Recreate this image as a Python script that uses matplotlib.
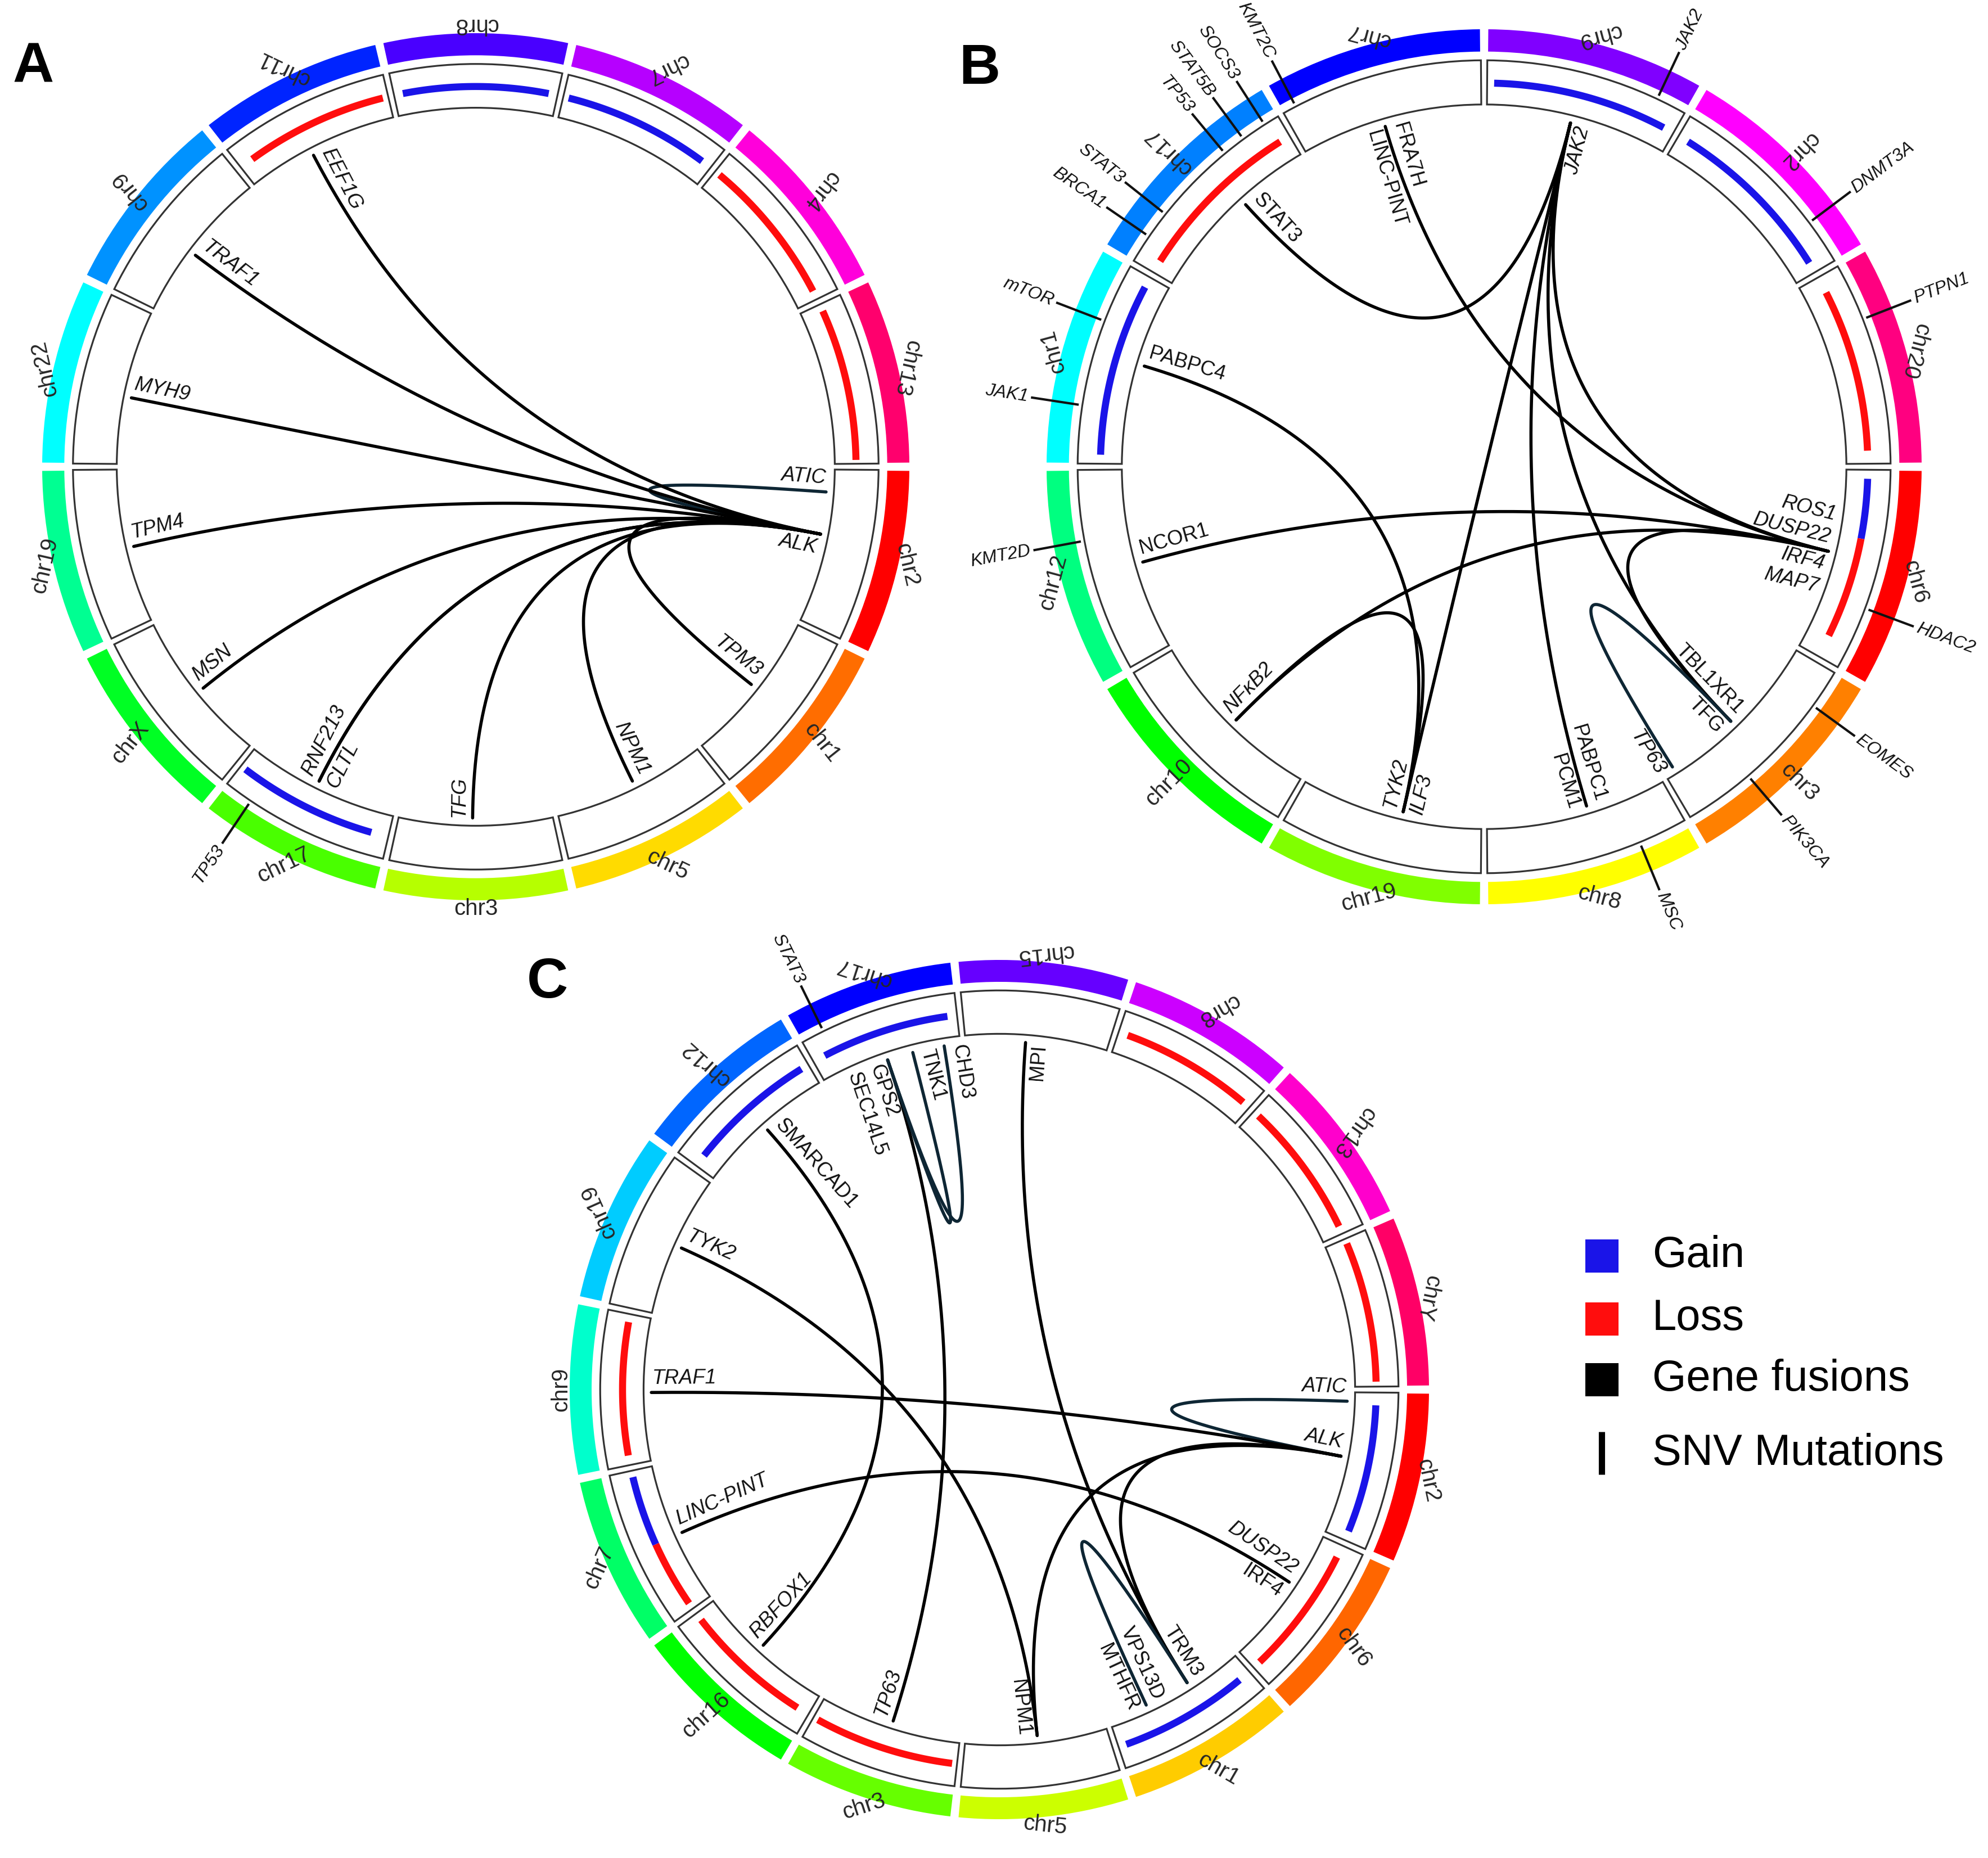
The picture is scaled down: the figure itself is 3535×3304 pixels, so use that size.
import numpy as np
import matplotlib
matplotlib.use("Agg")
import matplotlib.pyplot as plt
from matplotlib.patches import Wedge, Rectangle
import colorsys

plt.rcParams['font.family'] = ['Liberation Sans', 'DejaVu Sans']

# ======================= DATA =======================
# ---- Panel A ----
A_chroms = ['chr2', 'chr1', 'chr5', 'chr3', 'chr17', 'chrX', 'chr19', 'chr22',
            'chr9', 'chr11', 'chr8', 'chr7', 'chr4', 'chr13']
A_cnv_chrom = ['chr11', 'chr8', 'chr7', 'chr4', 'chr13', 'chr17']
A_cnv_start = [0.10, 0.07, 0.05, 0.05, 0.06, 0.12]
A_cnv_end = [0.95, 0.93, 0.92, 0.93, 0.96, 0.95]
A_cnv_type = ['loss', 'gain', 'gain', 'loss', 'loss', 'gain']
A_genes = ['ALK', 'ATIC', 'TPM3', 'NPM1', 'TFG', 'RNF213', 'CLTL', 'MSN',
           'TPM4', 'MYH9', 'TRAF1', 'EEF1G']
A_gene_chrom = ['chr2', 'chr2', 'chr1', 'chr5', 'chr3', 'chr17', 'chr17', 'chrX',
                'chr19', 'chr22', 'chr9', 'chr11']
A_gene_pos = [0.43, 0.16, 0.49, 0.47, 0.52, 0.53, 0.53, 0.48, 0.49, 0.44, 0.44, 0.43]
A_fusion_a = ['ALK'] * 11
A_fusion_b = ['ATIC', 'TPM3', 'NPM1', 'TFG', 'RNF213', 'CLTL', 'MSN', 'TPM4',
              'MYH9', 'TRAF1', 'EEF1G']
A_snv = ['TP53']
A_snv_chrom = ['chr17']
A_snv_pos = [0.82]

# ---- Panel B ----
B_chroms = ['chr6', 'chr3', 'chr8', 'chr19', 'chr10', 'chr12', 'chr1', 'chr17',
            'chr7', 'chr9', 'chr2', 'chr20']
B_cnv_chrom = ['chr9', 'chr2', 'chr20', 'chr6', 'chr6', 'chr17', 'chr1']
B_cnv_start = [0.05, 0.07, 0.10, 0.06, 0.36, 0.08, 0.06]
B_cnv_end = [0.93, 0.93, 0.92, 0.36, 0.87, 0.93, 0.93]
B_cnv_type = ['gain', 'gain', 'loss', 'gain', 'loss', 'loss', 'gain']
B_genes = ['JAK2', 'STAT3', 'FRA7H', 'LINC-PINT', 'PABPC4', 'NCOR1', 'NFκB2',
           'TYK2', 'ILF3', 'PCM1', 'PABPC1', 'TP63', 'TBL1XR1', 'TFG',
           'DUSP22', 'ROS1', 'IRF4', 'MAP7']
B_gene_chrom = ['chr9', 'chr17', 'chr7', 'chr7', 'chr1', 'chr12', 'chr10',
                'chr19', 'chr19', 'chr8', 'chr8', 'chr3', 'chr3', 'chr3',
                'chr6', 'chr6', 'chr6', 'chr6']
B_gene_pos = [0.47, 0.59, 0.46, 0.46, 0.55, 0.48, 0.48, 0.44, 0.44, 0.44, 0.44,
              0.93, 0.53, 0.53, 0.46, 0.46, 0.46, 0.46]
B_fusion_a = ['STAT3', 'FRA7H', 'JAK2', 'JAK2', 'JAK2', 'JAK2', 'PABPC4',
              'NCOR1', 'NFκB2', 'NFκB2', 'MAP7', 'TFG']
B_fusion_b = ['JAK2', 'DUSP22', 'ROS1', 'TBL1XR1', 'PCM1', 'ILF3', 'TYK2',
              'DUSP22', 'IRF4', 'TYK2', 'TBL1XR1', 'TP63']
B_snv = ['JAK2', 'DNMT3A', 'PTPN1', 'HDAC2', 'EOMES', 'PIK3CA', 'MSC', 'KMT2D',
         'JAK1', 'mTOR', 'BRCA1', 'STAT3', 'TP53', 'STAT5B', 'SOCS3', 'KMT2C']
B_snv_chrom = ['chr9', 'chr2', 'chr20', 'chr6', 'chr3', 'chr3', 'chr8', 'chr12',
               'chr1', 'chr1', 'chr17', 'chr17', 'chr17', 'chr17', 'chr17', 'chr7']
B_snv_pos = [0.84, 0.77, 0.29, 0.68, 0.20, 0.65, 0.25, 0.65,
             0.29, 0.70, 0.15, 0.28, 0.68, 0.79, 0.91, 0.08]

# ---- Panel C ----
C_chroms = ['chr2', 'chr6', 'chr1', 'chr5', 'chr3', 'chr16', 'chr7', 'chr9',
            'chr19', 'chr12', 'chr17', 'chr15', 'chr8', 'chr13', 'chrY']
C_cnv_chrom = ['chr17', 'chr8', 'chr13', 'chrY', 'chr2', 'chr6', 'chr1', 'chr3',
               'chr16', 'chr7', 'chr7', 'chr9', 'chr12']
C_cnv_start = [0.10, 0.08, 0.06, 0.05, 0.10, 0.10, 0.10, 0.05, 0.10, 0.06, 0.49,
               0.08, 0.10]
C_cnv_end = [0.92, 0.93, 0.93, 0.95, 0.92, 0.93, 0.93, 0.95, 0.93, 0.49, 0.94,
             0.93, 0.93]
C_cnv_type = ['gain', 'loss', 'loss', 'loss', 'gain', 'loss', 'gain', 'loss',
              'loss', 'loss', 'gain', 'loss', 'gain']
C_genes = ['ATIC', 'ALK', 'DUSP22', 'IRF4', 'TRM3', 'MTHFR', 'VPS13D', 'NPM1',
           'TP63', 'RBFOX1', 'LINC-PINT', 'TRAF1', 'TYK2', 'SMARCAD1', 'GPS2',
           'SEC14L5', 'TNK1', 'CHD3', 'MPI']
C_gene_chrom = ['chr2', 'chr2', 'chr6', 'chr6', 'chr1', 'chr1', 'chr1', 'chr5',
                'chr3', 'chr16', 'chr7', 'chr9', 'chr19', 'chr12', 'chr17',
                'chr17', 'chr17', 'chr17', 'chr15']
C_gene_pos = [0.08, 0.46, 0.40, 0.40, 0.39, 0.71, 0.71, 0.49, 0.49, 0.53, 0.49,
              0.48, 0.50, 0.51, 0.47, 0.47, 0.65, 0.87, 0.43]
C_fusion_a = ['ATIC', 'TRAF1', 'ALK', 'ALK', 'LINC-PINT', 'TYK2', 'SMARCAD1',
              'GPS2', 'MPI', 'GPS2', 'SEC14L5', 'MTHFR']
C_fusion_b = ['ALK', 'ALK', 'NPM1', 'TRM3', 'DUSP22', 'NPM1', 'RBFOX1', 'TP63',
              'TRM3', 'TNK1', 'CHD3', 'TRM3']
C_snv = ['STAT3']
C_snv_chrom = ['chr17']
C_snv_pos = [0.16]

legend_labels = ['Gain', 'Loss', 'Gene fusions', 'SNV Mutations']

# ======================= STYLE =======================
A_ccw = {'ATIC', 'TPM3', 'NPM1', 'CLTL'}
B_ccw = {'LINC-PINT', 'ILF3', 'PABPC1', 'TBL1XR1', 'DUSP22', 'ROS1'}
C_ccw = {'ATIC', 'ALK', 'DUSP22', 'TRM3', 'VPS13D', 'GPS2', 'SEC14L5'}
A_italic = set(A_genes)
B_italic = {'JAK2', 'NFκB2', 'TYK2', 'ILF3', 'ROS1', 'DUSP22', 'IRF4', 'MAP7', 'TP63'}
C_italic = {'ATIC', 'ALK', 'DUSP22', 'TRAF1', 'LINC-PINT', 'TYK2', 'TP63', 'RBFOX1'}

GAIN = '#1a14e8'
LOSS = '#ff0d0d'
LOOP = '#0e2634'

W, H = 3535, 3304
fig = plt.figure(figsize=(W / 100, H / 100), dpi=100)
ax = fig.add_axes([0, 0, 1, 1])
ax.set_xlim(0, W)
ax.set_ylim(H, 0)
ax.axis('off')

GENE_FS = 26
CHR_FS = 29
SNV_FS = 23
PX_PER_PT = 100 / 72.0


def draw_panel(cx, cy, R, chroms, cnv_c, cnv_s, cnv_e, cnv_t, genes, gchrom,
               gpos, fa, fb, snv, snv_c, snv_p, ccw, italic):
    n = len(chroms)
    span = 360.0 / n
    start = {c: 90.0 + i * span for i, c in enumerate(chroms)}

    def th(c, f):
        return start[c] + f * span

    def xy(t, r):
        t = np.radians(t)
        return cx + r * np.sin(t), cy - r * np.cos(t)

    # sectors
    for i, c in enumerate(chroms):
        a0 = start[c]
        a1 = a0 + span
        col = colorsys.hsv_to_rgb(i / n, 1, 1)
        ax.add_patch(Wedge((cx, cy), R, a0 - 90 + 0.55, a1 - 90 - 0.55,
                           width=0.051 * R, facecolor=col, edgecolor='none'))
        ax.add_patch(Wedge((cx, cy), 0.929 * R, a0 - 90 + 0.45, a1 - 90 - 0.45,
                           width=0.101 * R, facecolor='white',
                           edgecolor='#333333', lw=2.3))
        m = (a0 + a1) / 2
        x, y = xy(m, 1.02 * R)
        ax.text(x, y, c, rotation=m - 180, rotation_mode='anchor',
                ha='center', va='center', fontsize=CHR_FS, color='#262626')

    # CNV tracks
    for c, s, e, t in zip(cnv_c, cnv_s, cnv_e, cnv_t):
        ts = np.linspace(th(c, s), th(c, e), 120)
        px, py = xy(ts, 0.877 * R)
        ax.plot(px, py, color=GAIN if t == 'gain' else LOSS, lw=9.0,
                solid_capstyle='butt', zorder=3)

    pos = {g: th(c, f) for g, c, f in zip(genes, gchrom, gpos)}
    chrom_of = dict(zip(genes, gchrom))

    # links (quadratic Bezier through the centre)
    c0 = np.array([cx, cy])
    tt = np.linspace(0, 1, 300)[:, None]
    for a, b in zip(fa, fb):
        p0 = np.array(xy(pos[a], 0.81 * R))
        p2 = np.array(xy(pos[b], 0.81 * R))
        pts = (1 - tt) ** 2 * p0 + 2 * tt * (1 - tt) * c0 + tt ** 2 * p2
        col = LOOP if chrom_of[a] == chrom_of[b] else 'black'
        ax.plot(pts[:, 0], pts[:, 1], color=col, lw=4.0,
                solid_capstyle='round', zorder=4)

    # gene labels
    groups = {}
    order = []
    for g in genes:
        side = 'ccw' if g in ccw else 'cw'
        key = (round(pos[g], 4), side)
        if key not in groups:
            groups[key] = []
            order.append(key)
        groups[key].append(g)
    lh = 1.15 * GENE_FS * PX_PER_PT
    gap = 7.0
    for key in order:
        t, side = key
        names = groups[key]
        tm = t % 360
        right = 0 < tm < 180
        if right:
            rot = 90 - tm
            ha = 'right'
            va = 'bottom' if side == 'ccw' else 'top'
        else:
            rot = 270 - tm
            ha = 'left'
            va = 'bottom' if side == 'cw' else 'top'
        up = np.radians(rot + 90)
        ux, uy = np.cos(up), -np.sin(up)
        sgn = 1 if va == 'bottom' else -1
        x, y = xy(t, 0.808 * R)
        for k, g in enumerate(names):
            off = gap + k * lh
            ax.text(x + sgn * off * ux, y + sgn * off * uy, g,
                    rotation=rot, rotation_mode='anchor', ha=ha, va=va,
                    fontsize=GENE_FS, color='#111111',
                    style='italic' if g in italic else 'normal', zorder=5)

    # SNV markers
    for g, c, f in zip(snv, snv_c, snv_p):
        t = th(c, f)
        x0, y0 = xy(t, 0.94 * R)
        x1, y1 = xy(t, 1.045 * R)
        ax.plot([x0, x1], [y0, y1], color='#111111', lw=3.0, zorder=6)
        tm = t % 360
        right = 0 < tm < 180
        rot = 90 - tm if right else 270 - tm
        x, y = xy(t, 1.055 * R)
        ax.text(x, y, g, rotation=rot, rotation_mode='anchor',
                ha='left' if right else 'right', va='center',
                fontsize=SNV_FS, style='italic', color='#111111')


draw_panel(846, 830, 771, A_chroms, A_cnv_chrom, A_cnv_start, A_cnv_end,
           A_cnv_type, A_genes, A_gene_chrom, A_gene_pos, A_fusion_a,
           A_fusion_b, A_snv, A_snv_chrom, A_snv_pos, A_ccw, A_italic)
draw_panel(2639, 830, 778, B_chroms, B_cnv_chrom, B_cnv_start, B_cnv_end,
           B_cnv_type, B_genes, B_gene_chrom, B_gene_pos, B_fusion_a,
           B_fusion_b, B_snv, B_snv_chrom, B_snv_pos, B_ccw, B_italic)
draw_panel(1777, 2471, 764, C_chroms, C_cnv_chrom, C_cnv_start, C_cnv_end,
           C_cnv_type, C_genes, C_gene_chrom, C_gene_pos, C_fusion_a,
           C_fusion_b, C_snv, C_snv_chrom, C_snv_pos, C_ccw, C_italic)

# panel letters
for letter, x, y in [('A', 22, 147), ('B', 1705, 149), ('C', 937, 1774)]:
    ax.text(x, y, letter, ha='left', va='baseline', fontsize=73,
            fontweight='bold', color='black')

# legend
sq = 59
leg_x = 2848
leg_y = [2233, 2345, 2453, 2584]
leg_col = [GAIN, LOSS, 'black']
for yy, col in zip(leg_y[:3], leg_col):
    ax.add_patch(Rectangle((leg_x - sq / 2, yy - sq / 2), sq, sq,
                           facecolor=col, edgecolor='none'))
ax.plot([leg_x, leg_x], [leg_y[3] - 38, leg_y[3] + 38], color='black', lw=8,
        solid_capstyle='butt')
for yy, lab in zip(leg_y, legend_labels):
    ax.text(2938, yy, lab, ha='left', va='center', fontsize=56, color='black')

fig.savefig('out.png', dpi=100, facecolor='white')
